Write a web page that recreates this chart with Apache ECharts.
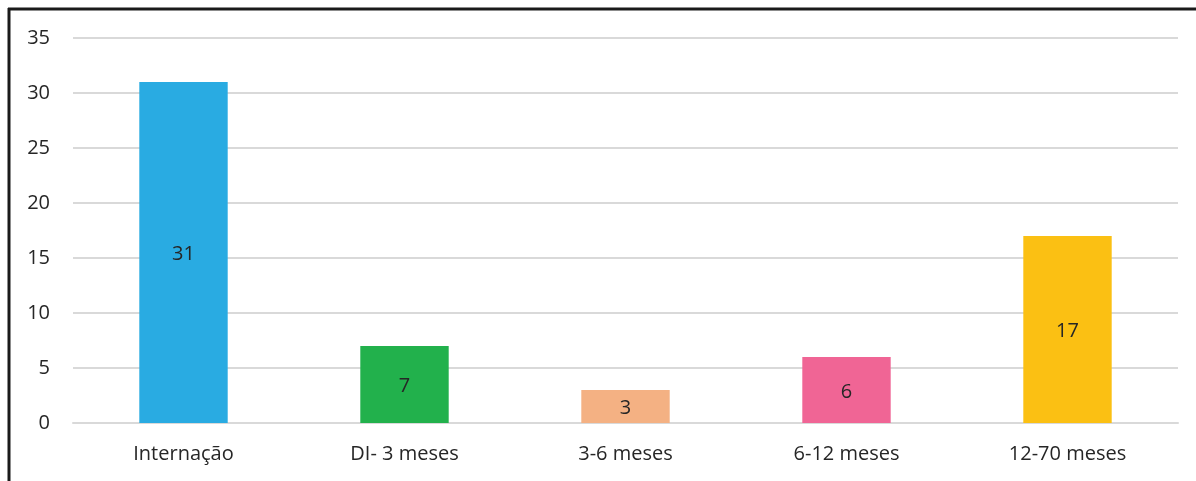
<!DOCTYPE html>
<html>
<head>
<meta charset="utf-8">
<script src="https://cdn.jsdelivr.net/npm/echarts@6/dist/echarts.min.js"></script>
<style>
  html, body { margin: 0; padding: 0; background: #fff; }
  #chart { width: 1196px; height: 481px; }
</style>
</head>
<body>
<div id="chart"></div>
<script>
// Period categories and patient counts
const categories = ['Internação', 'DI- 3 meses', '3-6 meses', '6-12 meses', '12-70 meses'];
const counts = [31, 7, 3, 6, 17];
const barColors = ['#29ABE2', '#22B14C', '#F4B183', '#F06595', '#FBC013'];

const FONT = '"Open Sans", "Noto Sans", sans-serif';

const chart = echarts.init(document.getElementById('chart'));
chart.setOption({
  animation: false,
  grid: { left: 73, right: 18, top: 38, bottom: 58 },
  xAxis: {
    type: 'category',
    data: categories,
    axisLine: { show: true, lineStyle: { color: '#D9D9D9', width: 2 } },
    axisTick: { show: false },
    axisLabel: { color: '#262626', fontFamily: FONT, fontSize: 20, margin: 21 }
  },
  yAxis: {
    type: 'value',
    min: 0,
    max: 35,
    interval: 5,
    axisLine: { show: false },
    axisTick: { show: false },
    splitLine: { lineStyle: { color: '#D9D9D9', width: 2 } },
    axisLabel: { color: '#262626', fontFamily: FONT, fontSize: 20, margin: 23 }
  },
  series: [{
    type: 'bar',
    barWidth: '40%',
    data: counts.map((v, i) => ({ value: v, itemStyle: { color: barColors[i] } })),
    label: {
      show: true,
      position: 'inside',
      offset: [0, 2],
      color: '#262626',
      fontFamily: FONT,
      fontSize: 20
    }
  }],
  graphic: [
    { type: 'line', shape: { x1: 8, y1: 9, x2: 1196, y2: 9 }, style: { stroke: '#1a1a1a', lineWidth: 3 } },
    { type: 'line', shape: { x1: 9, y1: 8, x2: 9, y2: 481 }, style: { stroke: '#1a1a1a', lineWidth: 3 } }
  ]
});
</script>
</body>
</html>
